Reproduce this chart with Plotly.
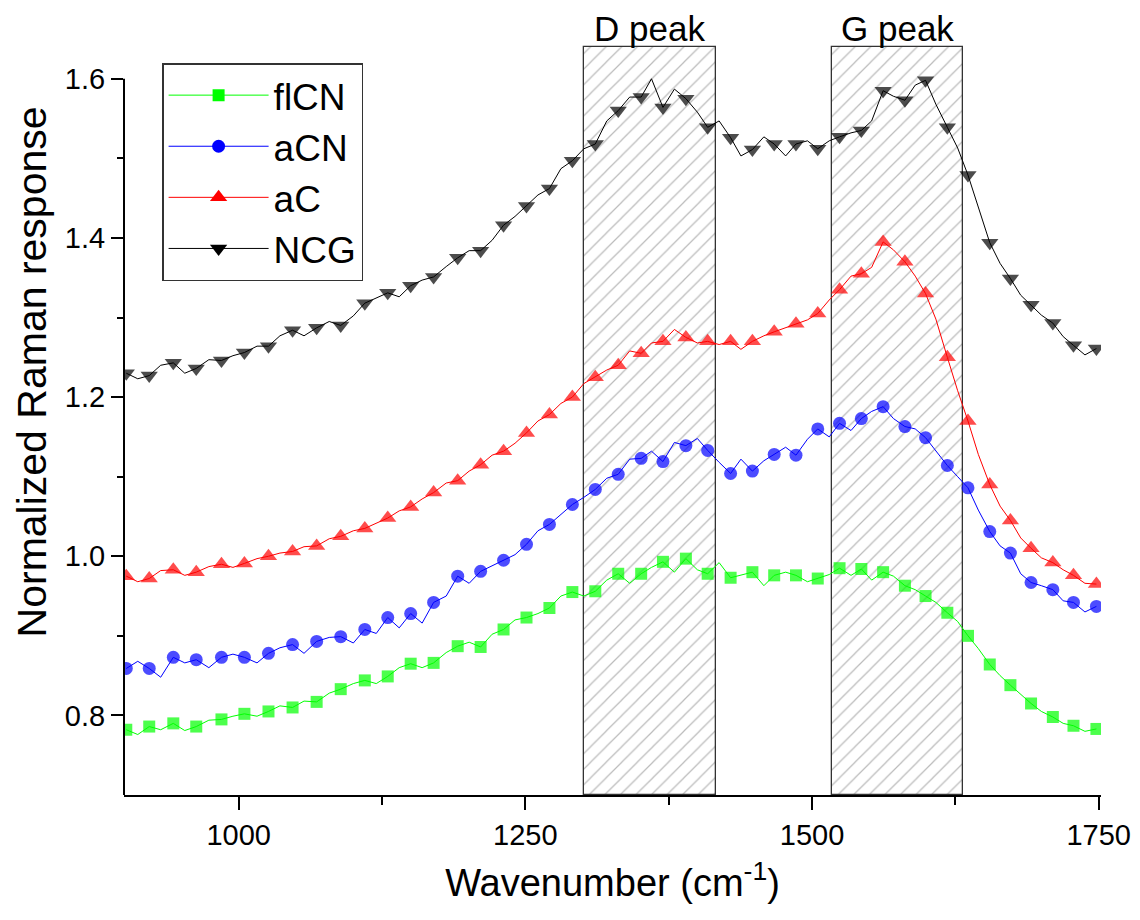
import plotly.graph_objects as go

wavenumber = [902, 912, 922, 932, 943, 953, 963, 974, 985, 995, 1005, 1016, 1026, 1036, 1047, 1057,
              1068, 1079, 1089, 1100, 1110, 1120, 1130, 1140, 1150, 1160, 1170, 1181, 1191, 1201,
              1211, 1221, 1231, 1241, 1251, 1261, 1271, 1281, 1291, 1301, 1311, 1321, 1331, 1341,
              1351, 1360, 1370, 1380, 1390, 1400, 1409, 1419, 1429, 1438, 1448, 1458, 1467, 1477,
              1486, 1496, 1505, 1515, 1524, 1534, 1543, 1552, 1562, 1571, 1581, 1590, 1599, 1608,
              1618, 1627, 1636, 1645, 1655, 1664, 1673, 1682, 1691, 1700, 1710, 1719, 1728, 1738, 1748]

flCN = [0.782, 0.776, 0.786, 0.782, 0.790, 0.781, 0.786, 0.794, 0.795, 0.799, 0.802, 0.799, 0.805, 0.812,
        0.810, 0.818, 0.817, 0.828, 0.833, 0.840, 0.844, 0.840, 0.849, 0.860, 0.865, 0.860, 0.866, 0.879,
        0.887, 0.892, 0.886, 0.902, 0.908, 0.920, 0.923, 0.928, 0.935, 0.950, 0.955, 0.950, 0.956, 0.970,
        0.978, 0.966, 0.978, 0.986, 0.993, 0.980, 0.997, 0.983, 0.978, 0.992, 0.973, 0.976, 0.980, 0.963,
        0.976, 0.980, 0.976, 0.968, 0.972, 0.977, 0.985, 0.976, 0.984, 0.970, 0.980, 0.975, 0.963, 0.958,
        0.950, 0.942, 0.929, 0.918, 0.900, 0.884, 0.864, 0.850, 0.838, 0.826, 0.815, 0.805, 0.798, 0.790,
        0.787, 0.780, 0.783]

aCN = [0.859, 0.868, 0.859, 0.848, 0.873, 0.866, 0.870, 0.860, 0.873, 0.877, 0.873, 0.866, 0.878, 0.885,
       0.889, 0.878, 0.893, 0.898, 0.899, 0.891, 0.908, 0.903, 0.923, 0.910, 0.928, 0.916, 0.942, 0.950,
       0.975, 0.966, 0.981, 0.988, 0.995, 1.002, 1.015, 1.032, 1.040, 1.052, 1.065, 1.074, 1.084, 1.098,
       1.103, 1.122, 1.123, 1.132, 1.119, 1.143, 1.139, 1.148, 1.133, 1.118, 1.104, 1.122, 1.107, 1.120,
       1.128, 1.137, 1.127, 1.147, 1.160, 1.150, 1.167, 1.158, 1.173, 1.182, 1.188, 1.173, 1.163, 1.160,
       1.149, 1.133, 1.114, 1.100, 1.086, 1.058, 1.031, 1.013, 1.004, 0.978, 0.967, 0.963, 0.958, 0.944,
       0.942, 0.930, 0.937]

aC = [0.975, 0.968, 0.972, 0.982, 0.983, 0.976, 0.980, 0.987, 0.990, 0.986, 0.991, 0.997, 1.000, 1.004,
      1.006, 1.012, 1.013, 1.022, 1.025, 1.032, 1.035, 1.042, 1.048, 1.057, 1.062, 1.072, 1.080, 1.092,
      1.095, 1.107, 1.115, 1.127, 1.132, 1.142, 1.155, 1.170, 1.178, 1.192, 1.200, 1.217, 1.225, 1.234,
      1.240, 1.258, 1.255, 1.268, 1.270, 1.285, 1.275, 1.268, 1.270, 1.266, 1.270, 1.260, 1.270, 1.277,
      1.282, 1.287, 1.292, 1.297, 1.305, 1.322, 1.335, 1.352, 1.355, 1.363, 1.395, 1.385, 1.370, 1.352,
      1.330, 1.298, 1.250, 1.208, 1.170, 1.128, 1.090, 1.063, 1.045, 1.023, 1.010, 0.998, 0.992, 0.983,
      0.976, 0.966, 0.965]

NCG = [1.230, 1.223, 1.227, 1.240, 1.243, 1.230, 1.236, 1.247, 1.246, 1.252, 1.256, 1.264, 1.264, 1.277,
       1.284, 1.277, 1.287, 1.295, 1.290, 1.302, 1.318, 1.324, 1.331, 1.326, 1.340, 1.347, 1.351, 1.364,
       1.375, 1.384, 1.384, 1.397, 1.416, 1.427, 1.440, 1.454, 1.462, 1.487, 1.497, 1.512, 1.518, 1.547,
       1.560, 1.577, 1.577, 1.600, 1.564, 1.587, 1.575, 1.558, 1.539, 1.547, 1.526, 1.503, 1.511, 1.527,
       1.518, 1.503, 1.518, 1.522, 1.512, 1.522, 1.527, 1.532, 1.535, 1.547, 1.585, 1.578, 1.573, 1.592,
       1.598, 1.568, 1.539, 1.513, 1.479, 1.438, 1.394, 1.368, 1.349, 1.328, 1.316, 1.303, 1.293, 1.276,
       1.265, 1.253, 1.261]

band_names = ["D peak", "G peak"]
band_start = [1301, 1517]
band_end = [1416, 1632]
band_top = 1.64
y_floor = 0.7

series = [
    ("flCN", flCN, "#00ff00", "square", 12),
    ("aCN", aCN, "#0000ff", "circle", 13),
    ("aC", aC, "#ff0000", "triangle-up", 15),
    ("NCG", NCG, "#000000", "triangle-down", 15),
]

fig = go.Figure()

# hatched peak regions
fig.add_trace(go.Bar(
    x=[(s + e) / 2 for s, e in zip(band_start, band_end)],
    y=[band_top - y_floor] * len(band_start),
    base=[y_floor] * len(band_start),
    width=[e - s for s, e in zip(band_start, band_end)],
    marker=dict(color="white",
                pattern=dict(shape="/", fgcolor="#777777", bgcolor="white", size=11, solidity=0.11),
                line=dict(color="#333333", width=1.3)),
    showlegend=False, hoverinfo="skip",
))

for name, vals, color, symbol, msize in series:
    sizes = [msize if i % 2 == 0 else 0 for i in range(len(vals))]
    fig.add_trace(go.Scatter(
        x=wavenumber, y=vals, name=name, mode="lines+markers", showlegend=False,
        legendgroup=name,
        line=dict(color=color, width=1),
        marker=dict(symbol=symbol, size=sizes, color=color, line=dict(width=0)),
    ))

# legend entries (style keys only; no data)
for name, vals, color, symbol, msize in series:
    fig.add_trace(go.Scatter(
        x=[None], y=[None], name=name, mode="lines+markers", legendgroup=name,
        line=dict(color=color, width=1),
        marker=dict(symbol=symbol, size=msize, color=color, line=dict(width=0)),
    ))

for name, s, e in zip(band_names, band_start, band_end):
    fig.add_annotation(x=(s + e) / 2, y=band_top, xref="x", yref="y", text=name,
                       showarrow=False, yanchor="bottom", xanchor="center", yshift=-3,
                       font=dict(size=35, color="black"))

# y-axis title placed like the reference (rotated)
fig.add_annotation(text="Normalized Raman response", xref="paper", yref="paper",
                   x=-0.0945, y=0.554, xanchor="center", yanchor="middle",
                   textangle=-90, showarrow=False, font=dict(size=41, color="black"))

# left axis line only up to 1.6
fig.add_shape(type="line", xref="paper", yref="y", x0=0, x1=0, y0=y_floor, y1=1.6,
              line=dict(color="black", width=2))

font_family = "Arial, Liberation Sans, sans-serif"
fig.update_layout(
    width=1140, height=920,
    margin=dict(l=116, r=47, t=23, b=133),
    paper_bgcolor="white", plot_bgcolor="white",
    font=dict(family=font_family, color="black"),
    barmode="overlay", bargap=0,
    legend=dict(x=0.039, y=0.958, xanchor="left", yanchor="top",
                bordercolor="#333333", borderwidth=1.5, bgcolor="white",
                font=dict(size=37, family=font_family),
                itemwidth=100, tracegroupgap=0),
    xaxis=dict(range=[900, 1752], showline=True, linecolor="black", linewidth=2,
               ticks="outside", ticklen=13, tickwidth=2, tickcolor="black",
               tickvals=[1000, 1250, 1500, 1750],
               minor=dict(tickvals=[1125, 1375, 1625], ticks="outside", ticklen=8,
                          tickwidth=2, tickcolor="black"),
               showgrid=False, zeroline=False,
               tickfont=dict(size=29),
               title=dict(text="Wavenumber (cm<sup>-1</sup>)", font=dict(size=38), standoff=20)),
    yaxis=dict(range=[y_floor, 1.66], showline=False,
               ticks="outside", ticklen=12, tickwidth=2, tickcolor="black",
               tickvals=[0.8, 1.0, 1.2, 1.4, 1.6], ticktext=["0.8", "1.0", "1.2", "1.4", "1.6"],
               minor=dict(tickvals=[0.9, 1.1, 1.3, 1.5], ticks="outside", ticklen=6,
                          tickwidth=2, tickcolor="black"),
               showgrid=False, zeroline=False,
               tickfont=dict(size=29)),
)

fig.write_html("out.html")
